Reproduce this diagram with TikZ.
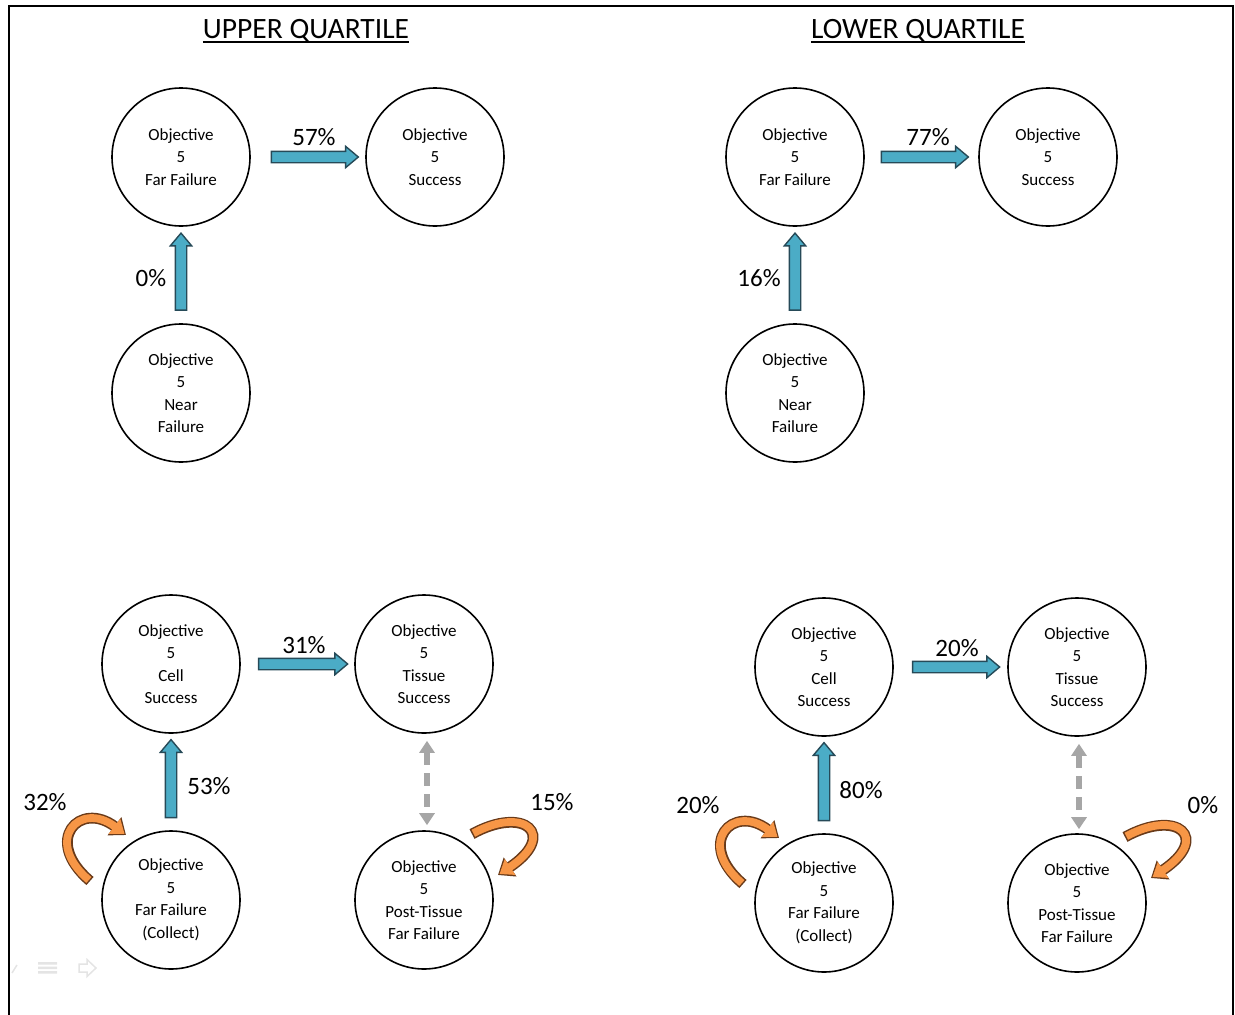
\documentclass[tikz,border=0pt]{standalone}
\usepackage{fontspec}
\setmainfont{Carlito}
\usetikzlibrary{shapes.arrows,arrows.meta,calc}
\definecolor{tealfill}{RGB}{75,172,198}
\definecolor{tealline}{RGB}{38,74,88}
\definecolor{orangefill}{RGB}{247,150,70}
\definecolor{orangeline}{RGB}{105,58,25}
\definecolor{dashgrey}{RGB}{166,166,166}
\definecolor{faint}{RGB}{228,228,228}

\begin{document}
\begin{tikzpicture}[x=1pt,y=-1pt,
  state/.style={circle,draw,line width=1.6,minimum size=138,inner sep=0,align=center,
    font=\fontsize{17}{22.5}\selectfont},
  pct/.style={font=\fontsize{25}{30}\selectfont,inner sep=0},
  heading/.style={font=\fontsize{29.5}{34}\selectfont,inner sep=0,anchor=base},
  blockarrow/.style={single arrow,draw=tealline,fill=tealfill,line width=1.4,
    inner xsep=0,inner ysep=5,minimum width=0,single arrow head extend=5,
    single arrow tip angle=80,sloped,minimum height=#1},
  linkarrow/.style={draw=dashgrey,line width=6,dash pattern=on 13 off 8,
    {Triangle[width=15,length=12]}-{Triangle[width=15,length=12]}},
  loopedge/.style={draw=orangeline,line width=10.8,-{Triangle[width=22,length=14.5]}},
  loopfill/.style={draw=orangefill,line width=7.8,shorten <=1.5,shorten >=1.8,
    -{Triangle[width=18.2,length=12.7]}}
]
\useasboundingbox (0,0) rectangle (1235,1015);

% frame
\draw[line width=2] (8.5,1016) -- (8.5,5.5) -- (1233,5.5) -- (1233,1016);

% headings
\node[heading] (h1) at (306,38) {UPPER QUARTILE};
\node[heading] (h2) at (918,38) {LOWER QUARTILE};
\foreach \h in {h1,h2}
  \draw[line width=1.8] ([yshift=-4]\h.base west) -- ([yshift=-4]\h.base east);

% upper quartile, top
\node[state] (uff) at (181,157) {Objective\\5\\Far Failure};
\node[state] (usu) at (435,157) {Objective\\5\\Success};
\node[state] (unf) at (181,393) {Objective\\5\\Near\\Failure};
% lower quartile, top
\node[state] (lff) at (795,157) {Objective\\5\\Far Failure};
\node[state] (lsu) at (1048,157) {Objective\\5\\Success};
\node[state] (lnf) at (795,393) {Objective\\5\\Near\\Failure};
% upper quartile, bottom
\node[state] (ucs) at (171,664) {Objective\\5\\Cell\\Success};
\node[state] (uts) at (424,664) {Objective\\5\\Tissue\\Success};
\node[state] (ufc) at (171,900) {Objective\\5\\Far Failure\\(Collect)};
\node[state] (upt) at (424,900) {Objective\\5\\Post-Tissue\\Far Failure};
% lower quartile, bottom
\node[state] (lcs) at (824,667) {Objective\\5\\Cell\\Success};
\node[state] (lts) at (1077,667) {Objective\\5\\Tissue\\Success};
\node[state] (lfc) at (824,903) {Objective\\5\\Far Failure\\(Collect)};
\node[state] (lpt) at (1077,903) {Objective\\5\\Post-Tissue\\Far Failure};

% straight transitions
\path (uff) -- (usu) node[blockarrow=87,pos=0.53] (a1) {};
\path (unf) -- (uff) node[blockarrow=77,pos=0.5] (a2) {};
\path (lff) -- (lsu) node[blockarrow=87,pos=0.5] (a3) {};
\path (lnf) -- (lff) node[blockarrow=77,pos=0.5] (a4) {};
\path (ucs) -- (uts) node[blockarrow=89,pos=0.52] (a5) {};
\path (ufc) -- (ucs) node[blockarrow=78,pos=0.5] (a6) {};
\path (lcs) -- (lts) node[blockarrow=87,pos=0.52] (a7) {};
\path (lfc) -- (lcs) node[blockarrow=78,pos=0.5] (a8) {};

% two-way links
\draw[linkarrow,shorten <=7,shorten >=5] ([xshift=3]uts.south) -- ([xshift=3]upt.north);
\draw[linkarrow,shorten <=7,shorten >=4] ([xshift=2]lts.south) -- ([xshift=2]lpt.north);

% self loops
\foreach \n in {ufc,lfc}{
  \foreach \s in {loopedge,loopfill}
    \draw[\s] ($(\n)+(-81,-19)$) .. controls ($(\n)+(-129,-60)$) and ($(\n)+(-91,-100)$) .. ($(\n)+(-45,-65)$);
}
\foreach \n in {upt,lpt}{
  \foreach \s in {loopedge,loopfill}
    \draw[\s] ($(\n)+(48,-66)$) .. controls ($(\n)+(101,-95)$) and ($(\n)+(134,-65)$) .. ($(\n)+(74,-25)$);
}

% percentages
\node[pct] (p1) at (314,137) {57\%};
\node[pct] (p2) at (151,278) {0\%};
\node[pct] (p3) at (928,137) {77\%};
\node[pct] (p4) at (759,278) {16\%};
\node[pct] (p5) at (304,645) {31\%};
\node[pct] (p6) at (209,786) {53\%};
\node[pct] (p7) at (45,802) {32\%};
\node[pct] (p8) at (552,802) {15\%};
\node[pct] (p9) at (957,648) {20\%};
\node[pct] (p10) at (861,790) {80\%};
\node[pct] (p11) at (698,805) {20\%};
\node[pct] (p12) at (1203,805) {0\%};

% faint player controls
\draw[faint,line width=1.5] (12,973) -- (17,965);
\fill[faint] (38,962) rectangle (57,964.5) (38,966.5) rectangle (57,969) (38,971) rectangle (57,973.5);
\draw[faint,line width=1.5] (79,964) -- (87,964) -- (87,959.5) -- (96,968) -- (87,976.5) -- (87,972) -- (79,972) -- cycle;
\end{tikzpicture}
\end{document}
